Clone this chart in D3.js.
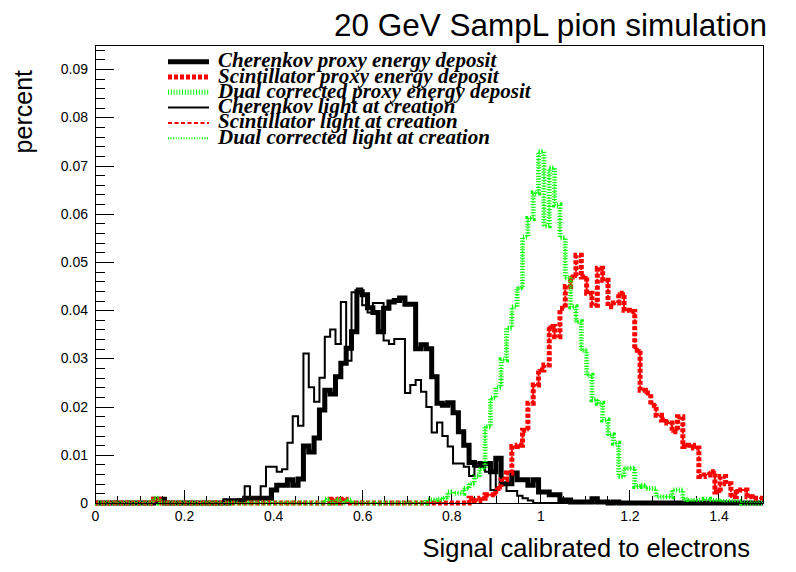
<!DOCTYPE html>
<html>
<head>
<meta charset="utf-8">
<script src="https://cdn.jsdelivr.net/npm/d3@7"></script>
<style>
  body { margin: 0; background: #fff; }
  svg { display: block; }
</style>
</head>
<body>
<svg id="chart"></svg>
<script>
// --- data: 125 bins of width 0.012 from 0 to 1.5 ---
const binWidth = 0.012;

const cherenkovProxy = [
  0, 0, 0, 0, 0, 0, 0, 0, 0, 0,
  0, 0.0008, 0.0008, 0, 0, 0, 0, 0, 0, 0,
  0, 0, 0, 0, 0, 0.0003, 0.0003, 0.0005, 0.001, 0.001,
  0.001, 0.001, 0.001, 0.0027, 0.0037, 0.0037, 0.0048, 0.0037, 0.005, 0.0118,
  0.0106, 0.0135, 0.0193, 0.0234, 0.0226, 0.0262, 0.029, 0.0321, 0.0355, 0.0438,
  0.0432, 0.0405, 0.0395, 0.0355, 0.0404, 0.0417, 0.042, 0.0425, 0.0412, 0.0412,
  0.032, 0.0328, 0.032, 0.0262, 0.0207, 0.0203, 0.0208, 0.0187, 0.0148, 0.012,
  0.0084, 0.0079, 0.0082, 0.0082, 0.0065, 0.0093, 0.004, 0.004, 0.0062, 0.0048,
  0.0048, 0.0037, 0.0048, 0.0023, 0.0023, 0.0017, 0.0017, 0.0006, 0.0006, 0.0002,
  0.0002, 0.0002, 0.0002, 0.0009, 0.0002, 0.0002, 0, 0.0002, 0, 0,
  0, 0, 0, 0, 0, 0, 0, 0, 0, 0,
  0, 0, 0, 0, 0, 0, 0, 0, 0, 0,
  0, 0, 0, 0, 0
];

const scintProxy = [
  0, 0, 0, 0, 0, 0, 0, 0, 0, 0,
  0, 0.0008, 0, 0, 0, 0, 0, 0, 0, 0,
  0, 0, 0, 0, 0, 0, 0, 0, 0, 0,
  0, 0, 0, 0, 0, 0, 0, 0, 0, 0,
  0, 0, 0, 0, 0.0008, 0, 0.0008, 0, 0, 0,
  0, 0, 0, 0, 0, 0, 0, 0, 0, 0,
  0, 0, 0, 0, 0, 0, 0, 0, 0, 0,
  0.001, 0.0005, 0.001, 0.0017, 0.0017, 0.003, 0.0048, 0.0062, 0.0117, 0.012,
  0.0151, 0.0207, 0.0245, 0.0276, 0.0286, 0.0366, 0.0345, 0.0404, 0.0449, 0.0469,
  0.0514, 0.0469, 0.0435, 0.041, 0.0487, 0.0462, 0.0407, 0.0415, 0.0435, 0.04,
  0.0397, 0.0317, 0.0234, 0.0228, 0.0203, 0.0182, 0.0172, 0.0166, 0.0148, 0.0179,
  0.0117, 0.012, 0.0114, 0.0055, 0.0058, 0.0065, 0.0023, 0.0055, 0.004, 0.0013,
  0.0027, 0.0027, 0.0013, 0.001, 0.001
];

const dualProxy = [
  0, 0, 0, 0, 0, 0, 0, 0, 0, 0,
  0, 0.001, 0, 0, 0, 0, 0, 0, 0, 0,
  0, 0, 0, 0, 0, 0, 0, 0, 0, 0,
  0, 0, 0, 0, 0, 0, 0, 0, 0, 0,
  0, 0, 0, 0.0008, 0, 0.0008, 0, 0.0006, 0, 0,
  0, 0, 0, 0, 0, 0, 0, 0, 0, 0,
  0, 0, 0.0006, 0.0006, 0.0008, 0.001, 0.0023, 0.002, 0.002, 0.003,
  0.004, 0.0055, 0.0072, 0.0158, 0.0218, 0.024, 0.0297, 0.0363, 0.0407, 0.0446,
  0.0552, 0.059, 0.0643, 0.0729, 0.0575, 0.0695, 0.0618, 0.055, 0.0467, 0.0407,
  0.0376, 0.0317, 0.0265, 0.0214, 0.0207, 0.0172, 0.0141, 0.0124, 0.0055, 0.0072,
  0.0072, 0.0034, 0.0037, 0.003, 0.003, 0.0013, 0.0013, 0.0013, 0.0027, 0.0027,
  0.0008, 0.0005, 0.0005, 0.0005, 0.0008, 0.0005, 0.0005, 0.0003, 0.0003, 0.0003,
  0.0003, 0, 0, 0, 0
];

const cherenkovLight = [
  0, 0, 0, 0, 0, 0, 0, 0, 0, 0,
  0, 0, 0, 0, 0, 0, 0, 0, 0, 0,
  0, 0, 0, 0, 0.0008, 0.0008, 0.0008, 0.0003, 0.0035, 0.0012,
  0.0012, 0.0035, 0.0075, 0.0075, 0.0065, 0.007, 0.0125, 0.018, 0.016, 0.031,
  0.024, 0.021, 0.026, 0.0345, 0.036, 0.033, 0.0417, 0.0295, 0.0437, 0.0445,
  0.041, 0.0395, 0.0415, 0.0415, 0.0337, 0.033, 0.034, 0.034, 0.0228, 0.0245,
  0.0255, 0.0231, 0.0199, 0.0146, 0.0167, 0.0139, 0.0117, 0.0082, 0.0082, 0.0075,
  0.0056, 0.0075, 0.0075, 0.0065, 0.0027, 0.0089, 0.004, 0.0025, 0.0025, 0.0015,
  0.001, 0.0005, 0, 0, 0, 0, 0, 0, 0, 0,
  0, 0, 0, 0, 0, 0, 0, 0, 0, 0,
  0, 0, 0, 0, 0, 0, 0, 0, 0, 0,
  0, 0, 0, 0, 0, 0, 0, 0, 0, 0,
  0, 0, 0, 0, 0
];

// light at creation for scintillator / dual sits on top of the proxy curves
const scintLight = scintProxy;
const dualLight = dualProxy;

const seriesNames = [
  "Cherenkov proxy energy deposit",
  "Scintillator proxy energy deposit",
  "Dual corrected proxy energy deposit",
  "Cherenkov light at creation",
  "Scintillator light at creation",
  "Dual corrected light at creation"
];
const seriesValues = [cherenkovProxy, scintProxy, dualProxy, cherenkovLight, scintLight, dualLight];

const xTickValues = [0, 0.2, 0.4, 0.6, 0.8, 1, 1.2, 1.4];
const yTickValues = [0, 0.01, 0.02, 0.03, 0.04, 0.05, 0.06, 0.07, 0.08, 0.09];

// --- line styles ---
const styles = [
  { color: "#000", width: 5, dash: null },
  { color: "#ff0000", width: 5, dash: "4,2" },
  { color: "#00ff00", width: 5, dash: "1,1.8" },
  { color: "#000", width: 2, dash: null },
  { color: "#ff0000", width: 2, dash: "4,2.5" },
  { color: "#00ff00", width: 2, dash: "1,1.6" }
];

const width = 796;
const height = 572;
const frame = { left: 95, right: 763, top: 45, bottom: 503 };

const svg = d3.select("#chart").attr("width", width).attr("height", height);
svg.append("rect").attr("width", width).attr("height", height).attr("fill", "#fff");

const x = d3.scaleLinear().domain([0, 1.5]).range([frame.left, frame.right]);
const y = d3.scaleLinear().domain([0, 0.095]).range([frame.bottom, frame.top]);

// --- axes (ticks point into the frame, ROOT style) ---
const fmt = d3.format("~g");

const xMinor = svg.append("g").attr("transform", `translate(0,${frame.bottom})`)
  .call(d3.axisBottom(x).tickValues(x.ticks(30)).tickSize(-7).tickFormat(""));
const xMajor = svg.append("g").attr("transform", `translate(0,${frame.bottom})`)
  .call(d3.axisBottom(x).tickValues(xTickValues).tickSize(-13).tickPadding(8).tickFormat(fmt));
const yMinor = svg.append("g").attr("transform", `translate(${frame.left},0)`)
  .call(d3.axisLeft(y).tickValues(y.ticks(50)).tickSize(-10).tickFormat(""));
const yMajor = svg.append("g").attr("transform", `translate(${frame.left},0)`)
  .call(d3.axisLeft(y).tickValues(yTickValues).tickSize(-19).tickPadding(7).tickFormat(fmt));

[xMinor, xMajor, yMinor, yMajor].forEach((g) => {
  g.select(".domain").remove();
  g.selectAll("line").attr("stroke", "#000").attr("shape-rendering", "crispEdges");
  g.selectAll("text")
    .style("font-family", "'Liberation Sans', Arial, sans-serif")
    .style("font-size", "14px")
    .attr("fill", "#000");
});

// --- histograms ---
const stepLine = d3.line().curve(d3.curveStepAfter);
const histPoints = (vals) => {
  const pts = vals.map((v, i) => [x(i * binWidth), y(v)]);
  pts.push([x(vals.length * binWidth), y(vals[vals.length - 1])]);
  return pts;
};

svg.append("g")
  .selectAll("path")
  .data(seriesValues)
  .join("path")
  .attr("d", (d) => stepLine(histPoints(d)))
  .attr("fill", "none")
  .attr("stroke", (d, i) => styles[i].color)
  .attr("stroke-width", (d, i) => styles[i].width)
  .attr("stroke-dasharray", (d, i) => styles[i].dash)
  .attr("stroke-linejoin", "miter");

// --- frame ---
svg.append("rect")
  .attr("x", frame.left)
  .attr("y", frame.top)
  .attr("width", frame.right - frame.left)
  .attr("height", frame.bottom - frame.top)
  .attr("fill", "none")
  .attr("stroke", "#000")
  .attr("shape-rendering", "crispEdges");

// --- legend (rows overlap a little, as in the original) ---
const legend = svg.append("g");
const rows = legend.selectAll("g")
  .data(seriesNames)
  .join("g")
  .attr("transform", (d, i) => `translate(0,${61.7 + i * 15.3})`);

rows.append("line")
  .attr("x1", 168).attr("x2", 209)
  .attr("stroke", (d, i) => styles[i].color)
  .attr("stroke-width", (d, i) => styles[i].width)
  .attr("stroke-dasharray", (d, i) => styles[i].dash);

rows.append("text")
  .attr("x", 218)
  .attr("y", 5.5)
  .style("font-family", "'Liberation Serif', 'Times New Roman', serif")
  .style("font-weight", "bold")
  .style("font-style", "italic")
  .style("font-size", "21px")
  .attr("fill", "#000")
  .text((d) => d);

// --- titles ---
svg.append("text")
  .attr("x", 767)
  .attr("y", 36)
  .attr("text-anchor", "end")
  .style("font-family", "'Liberation Sans', Arial, sans-serif")
  .style("font-size", "31.5px")
  .text("20 GeV SampL pion simulation");

svg.append("text")
  .attr("x", 750)
  .attr("y", 557)
  .attr("text-anchor", "end")
  .style("font-family", "'Liberation Sans', Arial, sans-serif")
  .style("font-size", "25.5px")
  .text("Signal calibrated to electrons");

svg.append("text")
  .attr("transform", "translate(32,70) rotate(-90)")
  .attr("text-anchor", "end")
  .style("font-family", "'Liberation Sans', Arial, sans-serif")
  .style("font-size", "25px")
  .text("percent");
</script>
</body>
</html>
